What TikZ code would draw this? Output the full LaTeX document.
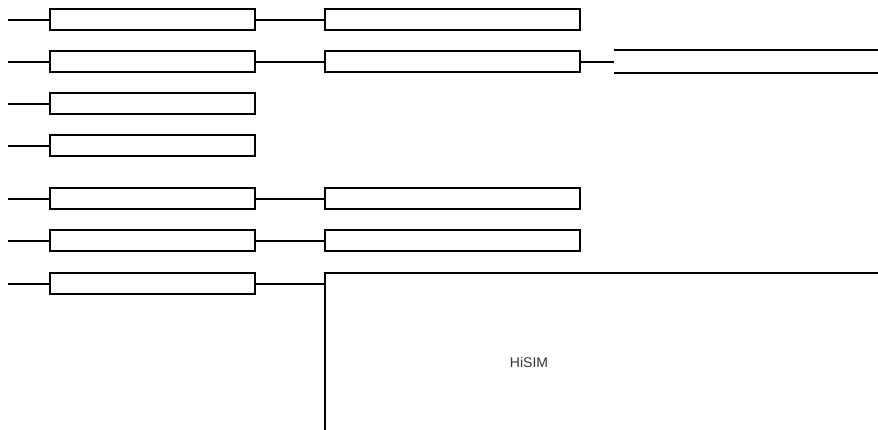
\documentclass[tikz,border=0pt]{standalone}
\usepackage{fontspec}
\setsansfont{Liberation Sans}
\usepackage{tikz}

\begin{document}
\begin{tikzpicture}[x=1pt,y=-1pt,line width=2pt,
        box/.style={rectangle,draw,line width=2pt,inner sep=0pt,minimum height=21pt},
        short box/.style={box,minimum width=205pt},
        long box/.style={box,minimum width=255pt}]

    \useasboundingbox (0,0) rectangle (878,430);

    % left column
    \node[short box] (L1) at (152.5,20) {};
    \node[short box] (L2) at (152.5,62) {};
    \node[short box] (L3) at (152.5,104) {};
    \node[short box] (L4) at (152.5,146) {};
    \node[short box] (L5) at (152.5,199) {};
    \node[short box] (L6) at (152.5,241) {};
    \node[short box] (L7) at (152.5,284) {};

    \coordinate (in1) at (8,20);
    \coordinate (in2) at (8,62);
    \coordinate (in3) at (8,104);
    \coordinate (in4) at (8,146);
    \coordinate (in5) at (8,199);
    \coordinate (in6) at (8,241);
    \coordinate (in7) at (8,284);

    % middle column
    \node[long box] (M1) at (452.5,20) {};
    \node[long box] (M2) at (452.5,62) {};
    \node[long box] (M5) at (452.5,199) {};
    \node[long box] (M6) at (452.5,241) {};

    % open box on the right
    \node[rectangle,inner sep=0pt,minimum width=263pt,minimum height=21pt] (R2) at (746.5,62) {};
    \draw (R2.north west) -- (R2.north east);
    \draw (R2.south west) -- (R2.south east);

    % HiSIM block
    \coordinate (H) at (325,273);
    \coordinate (Hin) at (325,284);
    \draw (325,430) -- (H) -- (878,273);
    \node[font=\sffamily\fontsize{14}{16}\selectfont,text=black!80] (hisim) at (529,362) {HiSIM};

    \path
    (in1) edge (L1.west)
    (in2) edge (L2.west)
    (in3) edge (L3.west)
    (in4) edge (L4.west)
    (in5) edge (L5.west)
    (in6) edge (L6.west)
    (in7) edge (L7.west)
    (L1.east) edge (M1.west)
    (L2.east) edge (M2.west)
    (L5.east) edge (M5.west)
    (L6.east) edge (M6.west)
    (L7.east) edge (Hin)
    (M2.east) edge (R2.west);

\end{tikzpicture}
\end{document}
